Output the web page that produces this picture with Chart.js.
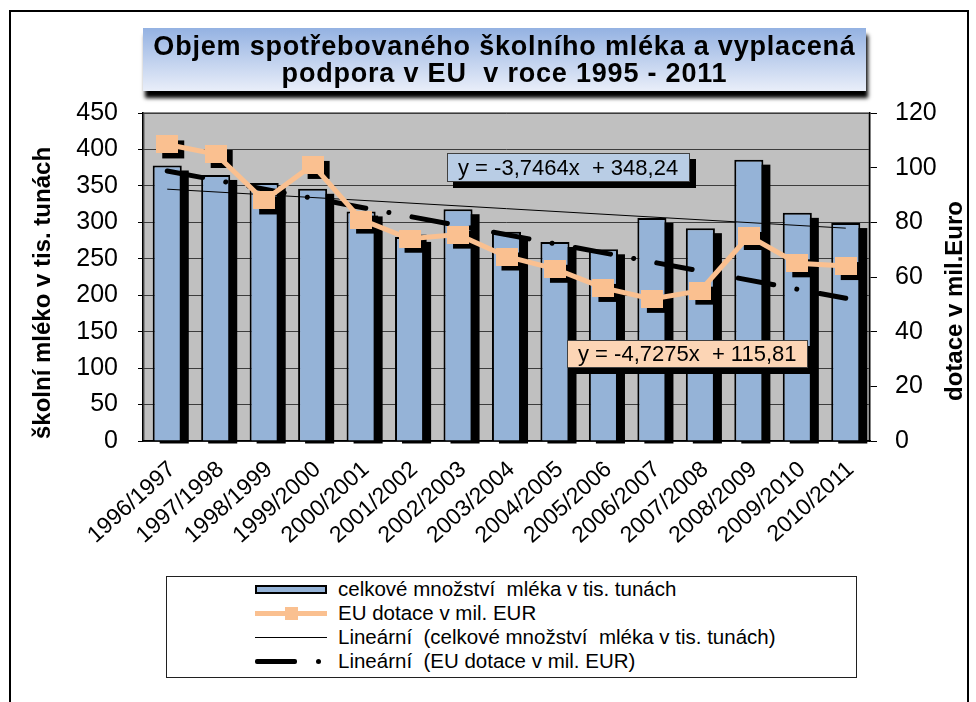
<!DOCTYPE html>
<html>
<head>
<meta charset="utf-8">
<script src="https://cdn.jsdelivr.net/npm/chart.js@4.4.1/dist/chart.umd.min.js"></script>
<style>
html,body{margin:0;padding:0;background:#fff;}
body{width:976px;height:702px;position:relative;overflow:hidden;font-family:"Liberation Sans",Arial,sans-serif;color:#000;}
#frame{position:absolute;left:9px;top:10px;width:960px;height:720px;border:2px solid #000;box-sizing:border-box;}
#chart{position:absolute;left:0;top:0;}
#title{position:absolute;left:143px;top:28px;width:723px;height:63px;box-sizing:border-box;padding-top:5px;
  background:linear-gradient(#94b2e2,#e9eef9);box-shadow:2px 7px 4px #000;text-align:center;font-weight:bold;
  font-size:27px;line-height:27px;letter-spacing:0.8px;white-space:pre;}
.eq{position:absolute;box-sizing:border-box;border:1px solid #404040;box-shadow:6px 6px 0 #000;font-size:22px;
  line-height:27px;padding-left:10px;white-space:pre;}
#eq1{left:447px;top:153px;width:243px;height:29px;background:#b9cde5;}
#eq2{left:567px;top:340px;width:241px;height:28px;background:#fcd5b5;line-height:26px;}
#legend{position:absolute;left:166px;top:576px;width:691px;height:102px;box-sizing:border-box;border:1px solid #202020;background:#fff;}
.row{position:absolute;left:0;width:100%;height:24px;}
.txt{position:absolute;left:171px;top:0;line-height:24px;font-size:20.5px;white-space:pre;}
.sym{position:absolute;}
</style>
</head>
<body>
<div id="frame"></div>
<canvas id="chart" width="976" height="702"></canvas>
<div id="title">Objem spotřebovaného školního mléka a vyplacená
podpora v EU  v roce 1995 - 2011</div>
<div class="eq" id="eq1">y = -3,7464x  + 348,24</div>
<div class="eq" id="eq2">y = -4,7275x  + 115,81</div>
<div id="legend">
  <div class="row" style="top:0px">
    <div class="sym" style="left:88px;top:8px;width:72px;height:9px;box-sizing:border-box;border:2px solid #000;background:#95b3d7;"></div>
    <div class="txt">celkové množství  mléka v tis. tunách</div>
  </div>
  <div class="row" style="top:24px">
    <div class="sym" style="left:88px;top:10px;width:72px;height:5px;background:#fac090;"></div>
    <div class="sym" style="left:118px;top:6px;width:13px;height:13px;background:#fac090;"></div>
    <div class="txt">EU dotace v mil. EUR</div>
  </div>
  <div class="row" style="top:48px">
    <div class="sym" style="left:88px;top:12px;width:72px;height:1px;background:#000;"></div>
    <div class="txt">Lineární  (celkové množství  mléka v tis. tunách)</div>
  </div>
  <div class="row" style="top:72px">
    <div class="sym" style="left:88px;top:10px;width:42px;height:5px;background:#000;border-radius:2px;"></div>
    <div class="sym" style="left:149px;top:10px;width:5px;height:5px;background:#000;border-radius:50%;"></div>
    <div class="txt">Lineární  (EU dotace v mil. EUR)</div>
  </div>
</div>
<script>
// ---- data ----
const categories = ['1996/1997','1997/1998','1998/1999','1999/2000','2000/2001','2001/2002','2002/2003','2003/2004','2004/2005','2005/2006','2006/2007','2007/2008','2008/2009','2009/2010','2010/2011'];
const milkVolume = [378, 365, 354, 346, 315, 280, 318, 287, 273, 263, 306, 292, 386, 313, 299];
const euSubsidy  = [108.5, 105, 88, 101, 81, 74, 75.5, 67.5, 63, 56, 52, 55, 75, 65, 64];
// trend lines: end points as drawn in the picture
const milkTrend = [345.5, null, null, null, null, null, null, null, null, null, null, null, null, null, 292];
const euTrend   = [98.8, null, null, null, null, null, null, null, null, null, null, null, null, null, 52.2];
const leftAxis  = {min: 0, max: 450, step: 50};
const rightAxis = {min: 0, max: 120, step: 20};
const leftTitle  = 'školní mléko v tis. tunách';
const rightTitle = 'dotace v mil.Euro';
const seriesNames = ['celkové množství  mléka v tis. tunách', 'EU dotace v mil. EUR', 'Lineární  (celkové množství  mléka v tis. tunách)', 'Lineární  (EU dotace v mil. EUR)'];

const FONT = '"Liberation Sans", Arial, sans-serif';

const marker = document.createElement('canvas');
marker.width = 22; marker.height = 18;
const mctx = marker.getContext('2d');
mctx.fillStyle = '#fac090';
mctx.fillRect(0, 0, 22, 18);

const plotBg = {
  id: 'plotBg',
  beforeDraw(chart) {
    const {ctx, chartArea: a} = chart;
    ctx.save();
    ctx.fillStyle = '#c0c0c0';
    ctx.fillRect(a.left, a.top, a.right - a.left, a.bottom - a.top);
    ctx.strokeStyle = '#8c8c8c';
    ctx.lineWidth = 2;
    ctx.strokeRect(a.left + 1, a.top, a.right - a.left - 2, a.bottom - a.top);
    ctx.restore();
  }
};

const shadows = {
  id: 'shadows',
  beforeDatasetDraw(chart, args) {
    const ds = chart.data.datasets[args.index];
    const ctx = chart.ctx;
    if (ds.barShadow) {
      ctx.save();
      ctx.fillStyle = '#000';
      args.meta.data.forEach(el => {
        const p = el.getProps(['x', 'y', 'base', 'width'], true);
        ctx.fillRect(p.x - p.width / 2 + 7, p.y + 5, p.width, p.base - p.y - 2);
      });
      ctx.restore();
    }
    if (ds.markerShadow) {
      ctx.save();
      ctx.fillStyle = '#000';
      args.meta.data.forEach(el => {
        const p = el.getProps(['x', 'y'], true);
        ctx.fillRect(p.x - 11 + 6, p.y - 9 + 5, 22, 18);
      });
      ctx.restore();
    }
  }
};

const axisTitles = {
  id: 'axisTitles',
  afterDraw(chart) {
    const ctx = chart.ctx;
    [[leftTitle, 43, 293], [rightTitle, 955, 301]].forEach(([t, x, y]) => {
      ctx.save();
      ctx.fillStyle = '#000';
      ctx.font = 'bold 24px ' + FONT;
      ctx.textAlign = 'center';
      ctx.textBaseline = 'middle';
      ctx.translate(x, y);
      ctx.rotate(-Math.PI / 2);
      ctx.fillText(t, 0, 0);
      ctx.restore();
    });
  }
};

new Chart(document.getElementById('chart'), {
  data: {
    labels: categories,
    datasets: [
      {
        type: 'bar', label: seriesNames[0], data: milkVolume, yAxisID: 'y',
        backgroundColor: '#95b3d7', borderColor: '#000', borderWidth: 2,
        barPercentage: 0.6, categoryPercentage: 1.0, order: 5, barShadow: true
      },
      {
        type: 'line', label: seriesNames[2], data: milkTrend, yAxisID: 'y',
        borderColor: '#000', borderWidth: 1, pointRadius: 0, spanGaps: true, order: 4
      },
      {
        type: 'line', label: seriesNames[3], data: euTrend, yAxisID: 'y1',
        borderColor: '#000', borderWidth: 5, pointRadius: 0, spanGaps: true,
        borderCapStyle: 'round', borderDash: [36, 23.5, 0.01, 23.5], order: 3
      },
      {
        type: 'line', label: seriesNames[1], data: euSubsidy, yAxisID: 'y1',
        borderColor: '#fac090', borderWidth: 5, tension: 0,
        pointStyle: marker, pointRadius: 11, order: 1, markerShadow: true
      }
    ]
  },
  options: {
    responsive: false,
    animation: false,
    events: [],
    layout: {padding: {top: 113, left: 0, right: 0, bottom: 0}},
    plugins: {legend: {display: false}, tooltip: {enabled: false}, title: {display: false}},
    scales: {
      x: {
        type: 'category', offset: true,
        grid: {display: false, drawTicks: false},
        border: {display: true, color: '#000', width: 1.5},
        ticks: {
          color: '#000', font: {family: FONT, size: 23}, padding: 15,
          minRotation: 42, maxRotation: 42, autoSkip: false, labelOffset: 5
        },
        afterFit(s) { s.height = 702 - 441; }
      },
      y: {
        type: 'linear', position: 'left', min: leftAxis.min, max: leftAxis.max,
        grid: {color: '#3c3c3c', lineWidth: 1, drawTicks: true, tickLength: 5, tickColor: '#000'},
        border: {display: true, color: '#000', width: 1.5},
        ticks: {stepSize: leftAxis.step, color: '#000', font: {family: FONT, size: 25}, padding: 20},
        afterFit(s) { s.width = 143; }
      },
      y1: {
        type: 'linear', position: 'right', min: rightAxis.min, max: rightAxis.max,
        grid: {drawOnChartArea: false, drawTicks: true, tickLength: 7, tickColor: '#000'},
        border: {display: true, color: '#000', width: 1.5},
        ticks: {stepSize: rightAxis.step, color: '#000', font: {family: FONT, size: 25}, padding: 18},
        afterFit(s) { s.width = 976 - 870; }
      }
    }
  },
  plugins: [plotBg, shadows, axisTitles]
});
</script>
</body>
</html>
